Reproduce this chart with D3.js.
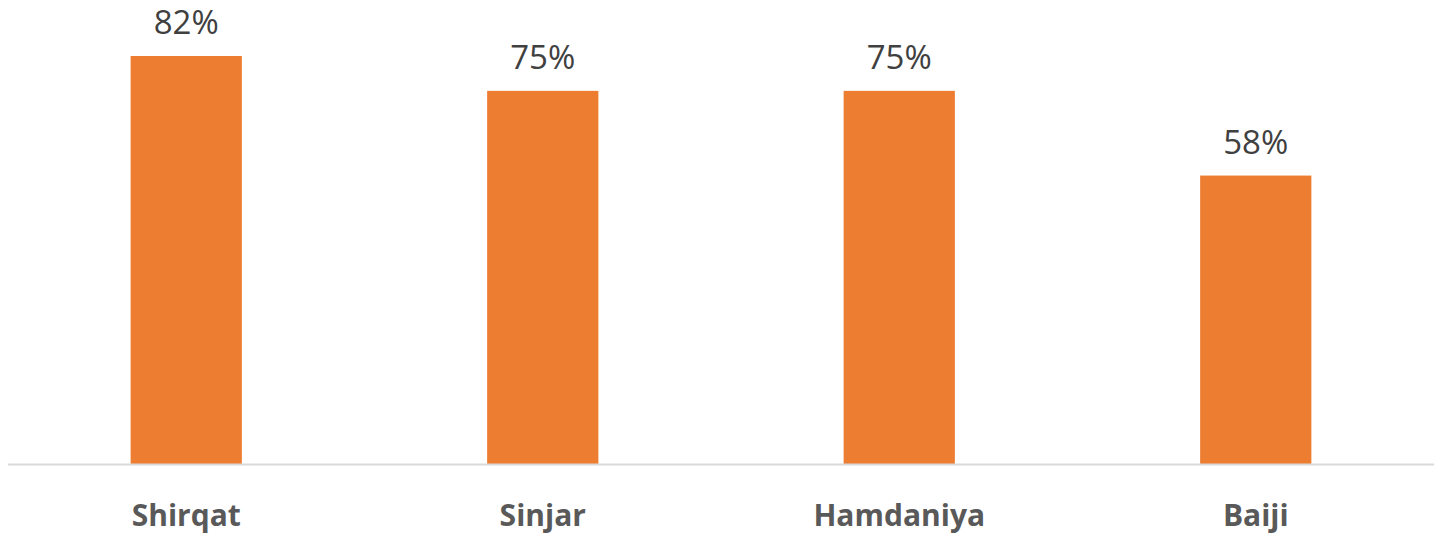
<!DOCTYPE html>
<html><head><meta charset="utf-8">
<script src="https://cdn.jsdelivr.net/npm/d3@7"></script>
<style>html,body{margin:0;padding:0;background:#fff;}</style>
</head><body>
<svg id="c" width="1440" height="534"></svg>
<script>
const categories = ["Shirqat", "Sinjar", "Hamdaniya", "Baiji"];
const values = [0.82, 0.75, 0.75, 0.58];
const valueLabels = ["82%", "75%", "75%", "58%"];

const svg = d3.select("#c");
const baseY = 464.5;
const x = d3.scaleBand().domain(categories).range([8, 1434]).paddingInner(0.688).paddingOuter(0.344);
const y = d3.scaleLinear().domain([0, 0.82]).range([baseY, 56]);

svg.selectAll("rect.bar").data(values).join("rect")
  .attr("class", "bar")
  .attr("x", (d, i) => x(categories[i]))
  .attr("width", x.bandwidth())
  .attr("y", d => y(d))
  .attr("height", d => baseY - y(d))
  .attr("fill", "#ED7D31");

svg.selectAll("text.val").data(values).join("text")
  .attr("class", "val")
  .attr("x", (d, i) => x(categories[i]) + x.bandwidth() / 2)
  .attr("y", d => y(d) - 22)
  .attr("text-anchor", "middle")
  .attr("font-family", "Open Sans")
  .attr("font-size", 33)
  .attr("fill", "#404040")
  .text((d, i) => valueLabels[i]);

const axis = d3.axisBottom(x).tickSize(0).tickPadding(0);
const g = svg.append("g").attr("transform", `translate(0,${baseY})`).call(axis);
g.select(".domain").attr("stroke", "#d9d9d9").attr("stroke-width", 2).attr("d", "M8,0H1434");
g.selectAll(".tick text")
  .attr("y", 61)
  .attr("dy", 0)
  .attr("font-family", "Open Sans")
  .attr("font-weight", "bold")
  .attr("font-size", 30)
  .attr("fill", "#595959");
</script>
</body></html>
